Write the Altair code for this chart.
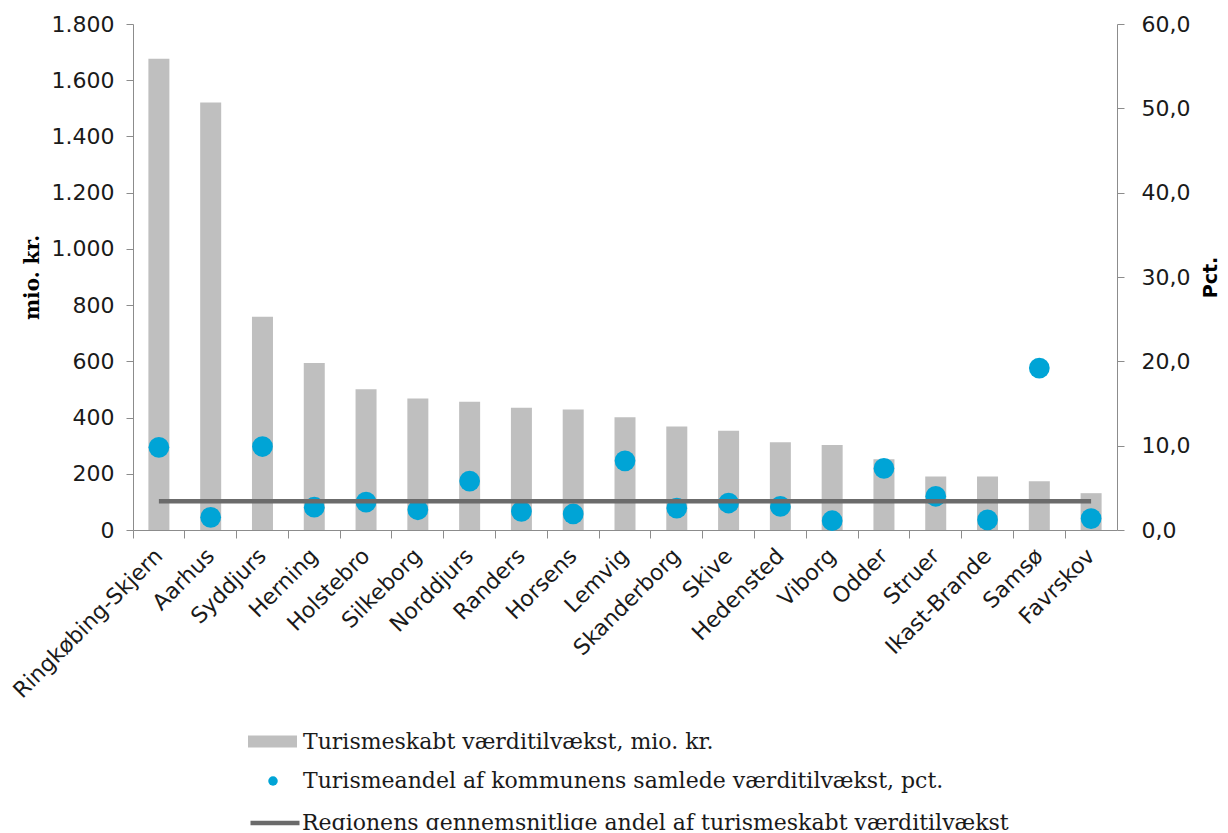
import altair as alt
import pandas as pd

kommuner = ["Ringkøbing-Skjern", "Aarhus", "Syddjurs", "Herning", "Holstebro", "Silkeborg",
            "Norddjurs", "Randers", "Horsens", "Lemvig", "Skanderborg", "Skive", "Hedensted",
            "Viborg", "Odder", "Struer", "Ikast-Brande", "Samsø", "Favrskov"]
vaerdi = [1676, 1521, 759, 594, 501, 468, 456, 435, 429, 401, 368, 353, 312, 302, 252, 190, 190, 173, 131]
andel = [9.8, 1.5, 9.9, 2.7, 3.3, 2.4, 5.8, 2.2, 1.9, 8.2, 2.6, 3.2, 2.8, 1.1, 7.3, 4.0, 1.2, 19.2, 1.35]
region_avg = 3.4

lbl_bar = "Turismeskabt værditilvækst, mio. kr."
lbl_pt = "Turismeandel af kommunens samlede værditilvækst, pct."
lbl_line = "Regionens gennemsnitlige andel af turismeskabt værditilvækst"

df = pd.DataFrame({
    "kommune": kommuner,
    "vaerdi": vaerdi,
    "andel": andel,
    "avg": [region_avg] * len(kommuner),
    "s_bar": [lbl_bar] * len(kommuner),
    "s_pt": [lbl_pt] * len(kommuner),
    "s_line": [lbl_line] * len(kommuner),
})

TICK_FONT = "DejaVu Sans"
LEG_FONT = "DejaVu Serif"
AX_COL = "#8c8c8c"
TXT = "#1a1a1a"

xscale = alt.Scale(paddingInner=0, paddingOuter=0)

bars = alt.Chart(df).mark_bar(color="#bfbfbf", size=21).encode(
    x=alt.X("kommune:N", sort=kommuner, scale=xscale, title=None,
            axis=alt.Axis(orient="bottom", labelAngle=315, labelFont=TICK_FONT, labelFontSize=22,
                          labelColor=TXT, ticks=False, domainColor=AX_COL, labelPadding=22,
                          labelAlign="right", labelBaseline="middle", labelLimit=400)),
    y=alt.Y("vaerdi:Q", scale=alt.Scale(domain=[0, 1800], nice=False),
            axis=alt.Axis(title="mio. kr.", values=list(range(0, 1801, 200)),
                          labelExpr="replace(format(datum.value, ','), ',', '.')",
                          labelFont=TICK_FONT, labelFontSize=22, labelColor=TXT,
                          grid=False, domainColor=AX_COL, tickColor=AX_COL, tickSize=7,
                          labelPadding=12, titleFont="DejaVu Serif", titleFontWeight="bold",
                          titleFontSize=20, titleColor="#000000", titleAngle=270,
                          titleX=-101, titleY=253, titleAlign="center", titleBaseline="middle")),
    color=alt.Color("s_bar:N", scale=alt.Scale(range=["#bfbfbf"]),
                    legend=alt.Legend(orient="none", legendX=115, legendY=693, title=None,
                                      symbolType="M-1,-0.245H1V0.245H-1Z", symbolSize=2401,
                                      symbolStrokeWidth=0, labelFont=LEG_FONT, labelFontSize=22,
                                      labelColor=TXT, labelOffset=6, padding=0, labelLimit=900)),
)

# invisible layer that only carries the between-category tick marks of the x axis
xticks = alt.Chart(df).mark_bar(opacity=0, size=1).encode(
    x=alt.X("kommune:N", sort=kommuner, scale=xscale, title=None,
            axis=alt.Axis(orient="bottom", labels=False, bandPosition=0, ticks=True,
                          tickSize=8, tickColor=AX_COL, domain=False)),
    y=alt.Y("vaerdi:Q", scale=alt.Scale(domain=[0, 1800], nice=False), axis=None),
)

points = alt.Chart(df).mark_circle(size=430, opacity=1).encode(
    x=alt.X("kommune:N", sort=kommuner, scale=xscale, axis=None),
    y=alt.Y("andel:Q", scale=alt.Scale(domain=[0, 60], nice=False),
            axis=alt.Axis(orient="right", title="Pct.", values=list(range(0, 61, 10)),
                          labelExpr="replace(format(datum.value, '.1f'), '.', ',')",
                          labelFont=TICK_FONT, labelFontSize=22, labelColor=TXT,
                          grid=False, domainColor=AX_COL, tickColor=AX_COL, tickSize=7,
                          labelPadding=17, titleFont="DejaVu Sans", titleFontWeight="bold",
                          titleFontSize=19, titleColor="#000000", titleAngle=270,
                          titleX=93, titleY=253, titleAlign="center", titleBaseline="middle")),
    fill=alt.Fill("s_pt:N", scale=alt.Scale(range=["#00a4d6"]),
                  legend=alt.Legend(orient="none", legendX=129, legendY=746, title=None,
                                    symbolType="circle", symbolSize=90, symbolStrokeWidth=0,
                                    labelFont=LEG_FONT, labelFontSize=22, labelColor=TXT,
                                    labelOffset=19, padding=0, labelLimit=900)),
)

line = alt.Chart(df).mark_line(strokeWidth=4.5).encode(
    x=alt.X("kommune:N", sort=kommuner, scale=xscale, axis=None),
    y=alt.Y("avg:Q", scale=alt.Scale(domain=[0, 60], nice=False), axis=None),
    stroke=alt.Stroke("s_line:N", scale=alt.Scale(range=["#6b6b6b"]),
                      legend=alt.Legend(orient="none", legendX=115, legendY=772, title=None,
                                        symbolType="stroke", symbolSize=2401, symbolStrokeWidth=4.5,
                                        labelFont=LEG_FONT, labelFontSize=22, labelColor=TXT,
                                        labelOffset=0, padding=0, labelLimit=900)),
)

chart = alt.layer(bars, xticks, points, line).resolve_scale(y="independent").resolve_axis(
    x="independent").properties(
    width=984, height=506,
    autosize=alt.AutoSizeParams(type="none"),
    padding={"left": 125, "top": 16, "right": 103, "bottom": 300},
).configure_view(stroke=None)

chart.save("out.html", embed_options={"renderer": "svg", "actions": False})
